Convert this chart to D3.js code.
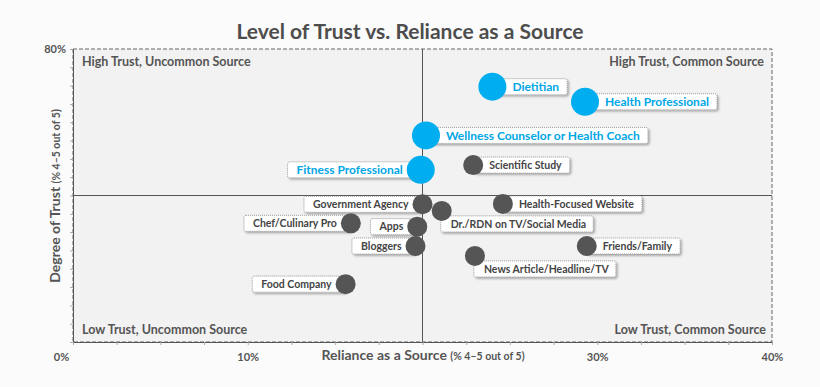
<!DOCTYPE html>
<html>
<head>
<meta charset="utf-8">
<script src="https://cdn.jsdelivr.net/npm/d3@7"></script>
<style>
  body { margin: 0; background: #fbfbfb; }
  text { font-family: Lato, "Open Sans", sans-serif; font-weight: bold; }
</style>
</head>
<body>
<div id="chart"></div>
<script>
// reliance (x) and trust (y), % rating 4-5 out of 5
var sources = ['Dietitian', 'Health Professional', 'Wellness Counselor or Health Coach', 'Fitness Professional',
  'Scientific Study', 'Government Agency', 'Dr./RDN on TV/Social Media', 'Health-Focused Website',
  'Chef/Culinary Pro', 'Apps', 'Bloggers', 'Friends/Family', 'News Article/Headline/TV', 'Food Company'];
var reliance = [24.0, 29.3, 20.2, 19.9, 22.9, 20.0, 21.1, 24.6, 15.9, 19.7, 19.6, 29.4, 23.0, 15.6];
var trust    = [69.7, 65.6, 56.4, 47.0, 48.3, 37.6, 35.8, 37.7, 32.4, 31.5, 26.2, 26.2, 23.5, 15.8];
var highlight = [true, true, true, true, false, false, false, false, false, false, false, false, false, false];

var xTicks = [0, 10, 30, 40];
var quadrants = ['High Trust, Uncommon Source', 'High Trust, Common Source',
  'Low Trust, Uncommon Source', 'Low Trust, Common Source'];

// where each label box sits relative to its bubble
var labelSide = {
  'Fitness Professional': 'left', 'Government Agency': 'left', 'Chef/Culinary Pro': 'left',
  'Apps': 'left', 'Bloggers': 'left', 'Food Company': 'left',
  'Dr./RDN on TV/Social Media': 'below', 'News Article/Headline/TV': 'below'
};

var width = 820, height = 387;
var margin = {top: 49, right: 48, bottom: 45, left: 73};
var BLUE = '#00aeef', GREY = '#555555', INK = '#555555';

var svg = d3.select('#chart').append('svg')
  .attr('width', width)
  .attr('height', height);

var x = d3.scaleLinear().domain([0, 40]).range([margin.left, width - margin.right]);
var y = d3.scaleLinear().domain([0, 80]).range([height - margin.bottom, margin.top]);

var defs = svg.append('defs');
var f = defs.append('filter').attr('id', 'shadow').attr('x', '-10%').attr('y', '-30%').attr('width', '130%').attr('height', '180%');
f.append('feDropShadow').attr('dx', 1.5).attr('dy', 1.5).attr('stdDeviation', 0.8)
  .attr('flood-color', '#000').attr('flood-opacity', 0.35);

// plot area
svg.append('rect')
  .attr('x', x(0)).attr('y', y(80))
  .attr('width', x(40) - x(0)).attr('height', y(0) - y(80))
  .attr('fill', '#f2f2f2')
  .attr('stroke', '#666').attr('stroke-dasharray', '4,2');

// left and bottom axes
var yAxis = d3.axisLeft(y).tickValues(d3.range(0, 81, 5)).tickSize(3)
  .tickFormat(function(d) { return d === 80 ? d + '%' : ''; });
var gy = svg.append('g').attr('transform', 'translate(' + x(0) + ',0)').call(yAxis);
gy.select('.domain').attr('stroke', '#555');
gy.selectAll('.tick line').attr('stroke', '#aaa');
gy.selectAll('.tick text').attr('font-size', 11).attr('dx', -1).style('fill', INK);

var xAxis = d3.axisBottom(x).tickValues(d3.range(0, 41, 2.5)).tickSize(3)
  .tickFormat(function(d) { return xTicks.indexOf(d) >= 0 ? d + '%' : ''; });
var gx = svg.append('g').attr('transform', 'translate(0,' + y(0) + ')').call(xAxis);
gx.select('.domain').attr('stroke', '#555');
gx.selectAll('.tick line').attr('stroke', '#aaa');
gx.selectAll('.tick text').attr('font-size', 11).attr('dy', '1.2em').style('fill', INK);
gx.selectAll('.tick text').filter(function(d) { return d === 0; }).attr('dx', -12);

// quadrant dividers
svg.append('line')
  .attr('x1', x(20)).attr('x2', x(20)).attr('y1', y(80)).attr('y2', y(0))
  .attr('stroke', '#555');
svg.append('line')
  .attr('x1', x(0)).attr('x2', x(40)).attr('y1', y(40)).attr('y2', y(40))
  .attr('stroke', '#555');

// quadrant names
var qPos = [[x(0) + 9, y(80) + 17, 'start'], [x(40) - 8, y(80) + 17, 'end'],
  [x(0) + 9, y(0) - 8, 'start'], [x(40) - 6, y(0) - 8, 'end']];
svg.selectAll('.quad').data(quadrants).enter().append('text')
  .attr('class', 'quad')
  .attr('x', function(d, i) { return qPos[i][0]; })
  .attr('y', function(d, i) { return qPos[i][1]; })
  .attr('text-anchor', function(d, i) { return qPos[i][2]; })
  .attr('font-size', 12.5)
  .style('fill', INK)
  .text(function(d) { return d; });

// title and axis titles
svg.append('text')
  .attr('x', 410).attr('y', 39)
  .attr('text-anchor', 'middle')
  .attr('font-size', 21)
  .style('fill', '#4d4d4d')
  .text('Level of Trust vs. Reliance as a Source');

var xt = svg.append('text')
  .attr('x', 423).attr('y', 360)
  .attr('text-anchor', 'middle')
  .attr('font-size', 14)
  .style('fill', INK);
xt.append('tspan').text('Reliance as a Source ');
xt.append('tspan').attr('font-size', 10.5).text('(% 4\u20135 out of 5)');

var yt = svg.append('text')
  .attr('transform', 'translate(60,196) rotate(-90)')
  .attr('text-anchor', 'middle')
  .attr('font-size', 14)
  .style('fill', INK);
yt.append('tspan').text('Degree of Trust ');
yt.append('tspan').attr('font-size', 10.5).text('(% 4\u20135 out of 5)');

// points
var data = sources.map(function(name, i) {
  return {name: name, x: reliance[i], y: trust[i], hi: highlight[i]};
});

function radius(d) { return d.hi ? 14 : 10; }

var labels = svg.selectAll('.lab').data(data).enter().append('g')
  .attr('class', 'lab');

labels.append('rect').attr('class', 'box');
labels.append('text')
  .attr('font-size', function(d) { return d.hi ? 12 : 10.5; })
  .style('fill', function(d) { return d.hi ? '#00a6e6' : '#444'; })
  .attr('dy', '0.35em')
  .text(function(d) { return d.name; });

labels.each(function(d) {
  var g = d3.select(this);
  var t = g.select('text');
  var w = t.node().getComputedTextLength();
  var cx = x(d.x), cy = y(d.y), r = radius(d);
  var side = labelSide[d.name] || 'right';
  var bx, bw, by, h = 16, tx, ty;
  if (side === 'left') {
    tx = cx - r - 4 - w;
    bx = tx - 9; bw = cx - bx;
    ty = cy; by = cy - h / 2;
  } else if (side === 'below') {
    tx = cx + 9;
    bx = cx - 1; bw = w + 17;
    ty = cy + 13; by = ty - h / 2;
  } else {
    tx = cx + r + 6;
    bx = cx; bw = tx + w + 8 - cx;
    ty = cy; by = cy - h / 2;
  }
  t.attr('x', tx).attr('y', ty);
  g.select('rect')
    .attr('x', bx).attr('y', by).attr('width', bw).attr('height', h)
    .attr('rx', 2)
    .attr('fill', '#fff')
    .attr('stroke', '#8a8a8a').attr('stroke-width', 0.8).attr('stroke-dasharray', '1,1')
    .attr('filter', 'url(#shadow)');
});

svg.selectAll('.dot').data(data).enter().append('circle')
  .attr('class', 'dot')
  .attr('cx', function(d) { return x(d.x); })
  .attr('cy', function(d) { return y(d.y); })
  .attr('r', radius)
  .attr('fill', function(d) { return d.hi ? BLUE : GREY; });
</script>
</body>
</html>
